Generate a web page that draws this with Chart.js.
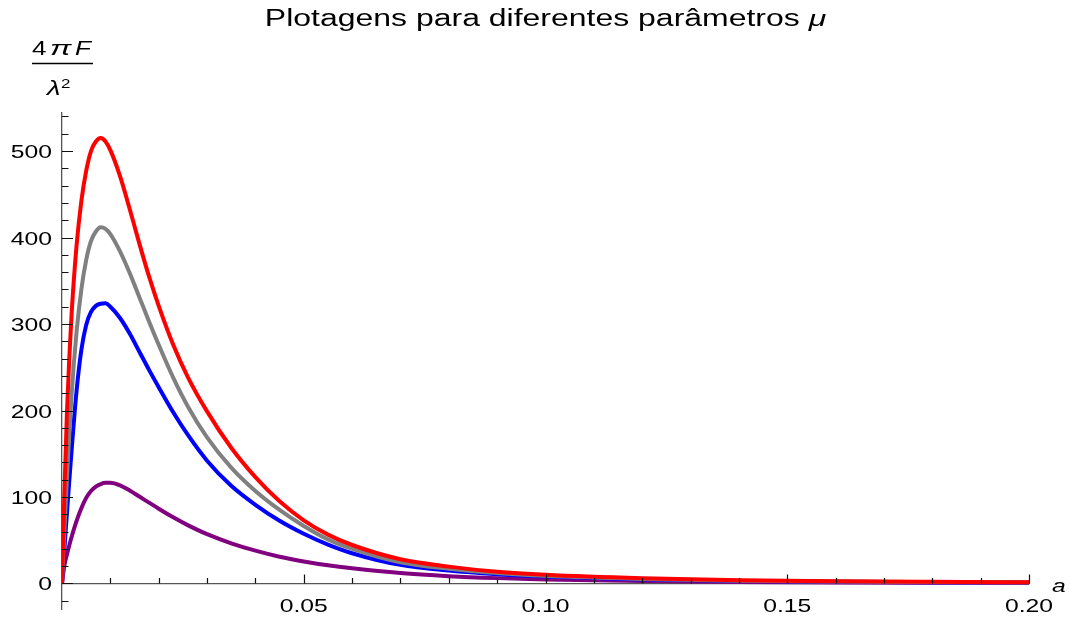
<!DOCTYPE html>
<html lang="pt">
<head>
  <meta charset="UTF-8">
  <title>Plotagens para diferentes parâmetros μ</title>
  <script src="https://cdn.jsdelivr.net/npm/chart.js"></script>
  <style>
    body {
      margin: 0;
      background: #ffffff;
    }
    canvas {
      display: block;
    }
  </style>
</head>
<body>
  <canvas id="forceChart" width="1070" height="619"></canvas>

  <script>
    // separation a and the four curves of 4πF/λ² (one per μ)
    const aValues = [0, 0.0005, 0.001, 0.0015, 0.002, 0.003, 0.004, 0.005, 0.006, 0.007,
      0.008, 0.009, 0.010, 0.012, 0.014, 0.016, 0.018, 0.020, 0.023, 0.026,
      0.030, 0.035, 0.040, 0.045, 0.050, 0.055, 0.060, 0.070, 0.080, 0.090,
      0.100, 0.120, 0.140, 0.160, 0.180, 0.200];

    const redCurve = [0, 105, 194, 260, 313, 390, 442, 477, 500, 511,
      515, 511, 501, 471, 433, 393, 355, 321, 276, 239,
      199, 157, 123, 95, 73, 56.5, 44.5, 28, 19.5, 13.5,
      10, 6, 3.8, 2.6, 1.9, 1.4];

    const grayCurve = [0, 62, 120, 172, 220, 290, 340, 374, 396, 407,
      412, 410, 404, 384, 359, 331, 303, 276, 238, 205,
      169, 134, 107, 85, 66.5, 51, 40, 24.5, 17, 12,
      8.8, 5.2, 3.3, 2.3, 1.7, 1.2];

    const blueCurve = [0, 40, 80, 118, 155, 222, 270, 299, 314, 321,
      323.5, 324, 320, 307, 289, 268, 247, 227, 198, 172,
      142, 113, 91, 72.5, 57.5, 45, 35, 21.5, 15, 10.8,
      8, 4.6, 3, 2.1, 1.5, 1.1];

    const purpleCurve = [0, 21, 33, 44, 54, 72, 87, 99, 107, 112,
      115, 116.5, 116.5, 113.5, 107.5, 100.5, 93.5, 86.5, 76.5, 67.5,
      57, 46.5, 38, 31, 25.5, 21, 17.5, 12, 8.5, 6.2,
      4.6, 2.8, 1.8, 1.2, 0.9, 0.7];

    const xTickValues = [0.05, 0.10, 0.15, 0.20];
    const xTickLabels = ['0.05', '0.10', '0.15', '0.20'];
    const yTickValues = [0, 100, 200, 300, 400, 500];
    const yTickLabels = ['0', '100', '200', '300', '400', '500'];

    const FAMILY = '"Liberation Sans", Arial, sans-serif';
    const WIDE = 1.3;   // glyphs are drawn horizontally widened

    function toPoints(ys) {
      return ys.map((y, i) => ({ x: aValues[i], y: y }));
    }

    function wideText(ctx, text, x, y, font, align, sx) {
      ctx.save();
      ctx.font = font;
      ctx.textAlign = align || 'left';
      ctx.textBaseline = 'alphabetic';
      ctx.fillStyle = '#000';
      ctx.translate(x, y);
      ctx.scale(sx || WIDE, 1);
      ctx.fillText(text, 0, 0);
      ctx.restore();
    }

    function textWidth(ctx, text, font, sx) {
      ctx.save();
      ctx.font = font;
      const w = ctx.measureText(text).width * (sx || WIDE);
      ctx.restore();
      return w;
    }

    // inward tick marks, tick labels, title and axis labels
    const axisDecor = {
      id: 'axisDecor',
      afterDraw(chart) {
        const { ctx, scales: { x, y } } = chart;
        const x0 = x.getPixelForValue(0);
        const y0 = y.getPixelForValue(0);

        ctx.save();
        ctx.strokeStyle = '#111';
        ctx.lineWidth = 1.2;
        ctx.beginPath();
        for (let k = 1; k <= 20; k++) {
          const px = Math.round(x.getPixelForValue(k / 100)) + 0.5;
          const len = k % 5 === 0 ? 9 : 5.5;
          ctx.moveTo(px, y0);
          ctx.lineTo(px, y0 - len);
        }
        for (let v = -20; v <= 540; v += 20) {
          const py = Math.round(y.getPixelForValue(v)) + 0.5;
          const len = v % 100 === 0 ? 11 : 6.5;
          ctx.moveTo(x0, py);
          ctx.lineTo(x0 + len, py);
        }
        ctx.stroke();
        ctx.restore();

        const tickFont = '19px ' + FAMILY;
        xTickValues.forEach((v, i) => {
          wideText(ctx, xTickLabels[i], x.getPixelForValue(v), y0 + 29, tickFont, 'center');
        });
        yTickValues.forEach((v, i) => {
          wideText(ctx, yTickLabels[i], x0 - 10, y.getPixelForValue(v) + 7, tickFont, 'right');
        });

        // x axis name
        wideText(ctx, 'a', 1052, y0 + 9, 'italic 19px ' + FAMILY, 'left');

        // title with italic μ
        const titleFont = '23px ' + FAMILY;
        const muFont = 'italic 23px ' + FAMILY;
        const head = 'Plotagens para diferentes parâmetros ';
        const headW = textWidth(ctx, head, titleFont, 1.39);
        const tw = headW + textWidth(ctx, 'μ', muFont, 1.39);
        const tx = (chart.chartArea.left + chart.chartArea.right) / 2 - tw / 2;
        wideText(ctx, head, tx, 26, titleFont, 'left', 1.39);
        wideText(ctx, 'μ', tx + headW, 26, muFont, 'left', 1.39);

        // y axis name: 4πF / λ²
        const numFont = '20px ' + FAMILY;
        const numItalic = 'italic 20px ' + FAMILY;
        wideText(ctx, '4', 32, 55, numFont, 'left');
        wideText(ctx, 'π', 50, 55, numItalic, 'left', 1.6);
        wideText(ctx, 'F', 75, 55, numItalic, 'left');
        ctx.save();
        ctx.strokeStyle = '#000';
        ctx.lineWidth = 1.3;
        ctx.beginPath();
        ctx.moveTo(32, 63.5);
        ctx.lineTo(93, 63.5);
        ctx.stroke();
        ctx.restore();
        wideText(ctx, 'λ', 47, 95, 'italic 21px ' + FAMILY, 'left');
        wideText(ctx, '2', 61, 88, '13px ' + FAMILY, 'left');
      }
    };

    const ctx = document.getElementById('forceChart').getContext('2d');

    new Chart(ctx, {
      type: 'line',
      data: {
        datasets: [
          { label: 'vermelho', data: toPoints(redCurve), borderColor: '#ff0000' },
          { label: 'cinza', data: toPoints(grayCurve), borderColor: '#808080' },
          { label: 'azul', data: toPoints(blueCurve), borderColor: '#0000ff' },
          { label: 'roxo', data: toPoints(purpleCurve), borderColor: '#800080' }
        ]
      },
      options: {
        responsive: false,
        animation: false,
        devicePixelRatio: 1,
        layout: { padding: { left: 62, right: 41, top: 113, bottom: 10 } },
        elements: {
          point: { radius: 0 },
          line: { borderWidth: 4, cubicInterpolationMode: 'monotone', fill: false }
        },
        plugins: {
          legend: { display: false },
          tooltip: { enabled: false },
          title: { display: false }
        },
        scales: {
          x: {
            type: 'linear',
            min: 0,
            max: 0.2,
            position: { y: 0 },
            z: 1,
            grid: { display: false },
            border: { display: true, color: '#555', width: 1.3 },
            ticks: { display: false },
            afterFit: s => { s.height = 0; }
          },
          y: {
            type: 'linear',
            min: -29.5,
            max: 544,
            position: 'left',
            z: 1,
            grid: { display: false },
            border: { display: true, color: '#555', width: 1.3 },
            ticks: { display: false },
            afterFit: s => { s.width = 0; }
          }
        }
      },
      plugins: [axisDecor]
    });
  </script>
</body>
</html>
